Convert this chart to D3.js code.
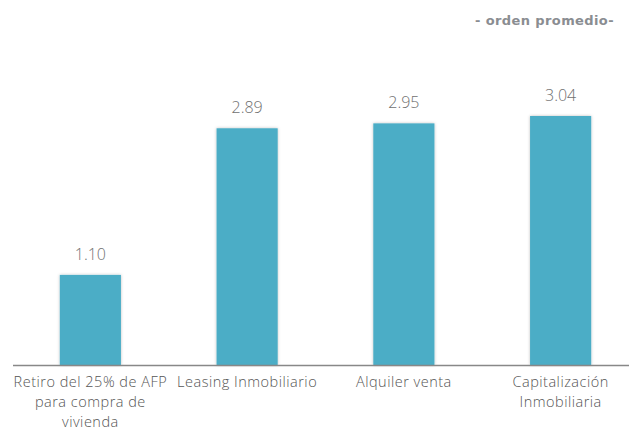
<!DOCTYPE html>
<html><head><meta charset="utf-8">
<script src="https://cdn.jsdelivr.net/npm/d3@7"></script>
<style>body{margin:0;background:#fff}svg{display:block}</style>
</head><body>
<script>
const categories = [["Retiro del 25% de AFP","para compra de","vivienda"],["Leasing Inmobiliario"],["Alquiler venta"],["Capitalización","Inmobiliaria"]];
const values = [1.10, 2.89, 2.95, 3.04];
const valueLabels = ["1.10","2.89","2.95","3.04"];
const title = "- orden promedio-";

const W = 629, H = 431;
const svg = d3.select("body").append("svg").attr("width", W).attr("height", H);
const defs = svg.append("defs");
const f = defs.append("filter").attr("id","sh").attr("x","-20%").attr("y","-10%").attr("width","140%").attr("height","120%");
f.append("feDropShadow").attr("dx",0).attr("dy",0).attr("stdDeviation",1.5).attr("flood-color","#000").attr("flood-opacity",0.25);

const baseY = 365;
const x = d3.scaleBand().domain(d3.range(values.length)).range([12, 639]).paddingInner(0.61).paddingOuter(0.305);
const y = d3.scaleLinear().domain([0, 3.04]).range([baseY, 116]);

svg.selectAll("rect.bar").data(values).join("rect").attr("class","bar")
  .attr("x", (d,i)=>x(i)).attr("width", x.bandwidth())
  .attr("y", d=>y(d)).attr("height", d=>baseY - y(d))
  .attr("fill","#4badc6").attr("filter","url(#sh)");

svg.append("line").attr("x1",13).attr("x2",W).attr("y1",baseY+0.5).attr("y2",baseY+0.5)
  .attr("stroke","#888").attr("stroke-width",1.5);

svg.selectAll("text.val").data(values).join("text").attr("class","val")
  .attr("x",(d,i)=>x(i)+x.bandwidth()/2).attr("y", d=>y(d)-15)
  .attr("text-anchor","middle").attr("font-family","'Open Sans', Roboto, sans-serif")
  .attr("font-weight",300).attr("font-size",16).attr("fill","#707070")
  .text((d,i)=>valueLabels[i]);

const cat = svg.selectAll("text.cat").data(categories).join("text").attr("class","cat")
  .attr("text-anchor","middle").attr("font-family","'Open Sans', Roboto, sans-serif")
  .attr("font-weight",300).attr("font-size",14.5).attr("letter-spacing",0.5).attr("fill","#555");
cat.each(function(lines,i){
  d3.select(this).selectAll("tspan").data(lines).join("tspan")
    .attr("x", x(i)+x.bandwidth()/2).attr("y",(l,j)=>387+j*19.8).text(l=>l);
});

svg.append("text").attr("x",614).attr("y",25).attr("text-anchor","end")
  .attr("font-family","'DejaVu Sans', sans-serif").attr("font-weight",700).attr("font-style","normal")
  .attr("font-size",13).attr("fill","#8a8d91").attr("letter-spacing",0.4).text(title);
</script>
</body></html>
